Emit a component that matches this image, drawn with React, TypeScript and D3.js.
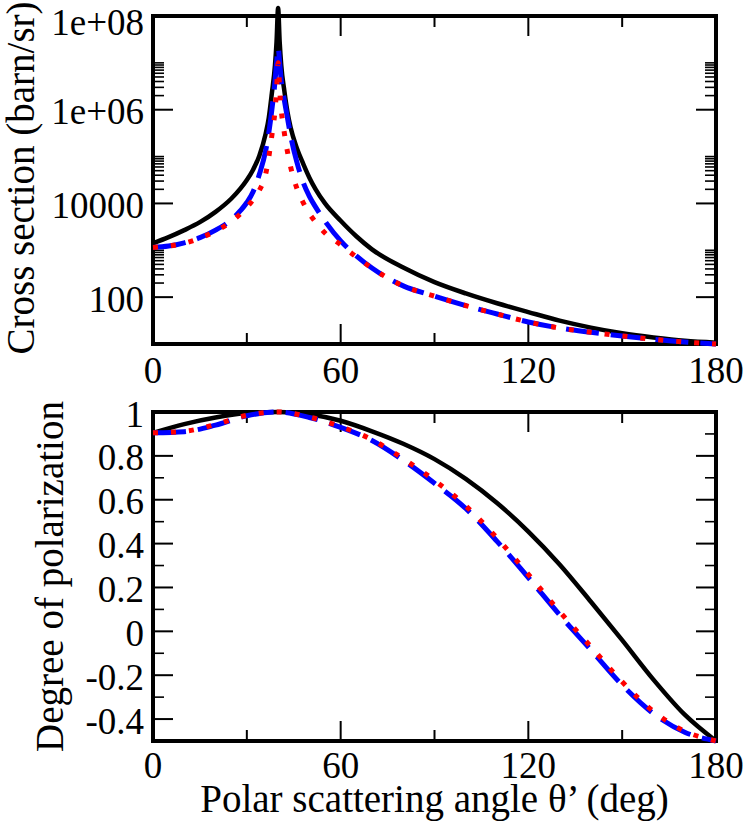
import * as d3 from 'd3';

// Scattering angle θ' (deg) for the cross-section panel (dense around the 40° peak)
const csAngles = [0, 5, 10, 15, 20, 25, 28, 30, 32, 34, 36, 37, 38, 39, 39.5, 40, 40.5, 41, 42, 43, 44, 46, 48, 50, 52, 55, 60, 65, 70, 80, 90, 100, 110, 120, 130, 140, 150, 160, 170, 180];

// Cross section (barn/sr)
const csSolid = [1410, 1905, 2690, 3980, 6610, 12600, 20900, 31600, 52500, 104700, 302000, 660700, 2.24e6, 8.91e6, 2.82e7, 1.48e8, 2.82e7, 8.91e6, 2.51e6, 8.91e5, 4.17e5, 1.51e5, 70800, 35500, 19950, 10000, 4270, 1995, 1047, 427, 209, 120, 74, 48, 31.6, 22.4, 17, 13.8, 11.7, 10.7];
const csDashed = [1150, 1230, 1445, 1860, 2690, 4470, 7080, 10470, 17800, 41700, 131800, 316200, 1e6, 3.98e6, 1e7, 2.09e7, 1e7, 4.17e6, 1.58e6, 6.61e5, 2.82e5, 75900, 28200, 14100, 8320, 4170, 1585, 759, 417, 174, 105, 66, 43.7, 29.5, 21.9, 17.8, 14.8, 12.6, 11, 10];
const csDotted = [1150, 1230, 1413, 1820, 2570, 4070, 6030, 8320, 12000, 19050, 41700, 95500, 281800, 955000, 2.63e6, 1e7, 2.63e6, 1e6, 316200, 125900, 60300, 20900, 10470, 6030, 3980, 2340, 1318, 724, 417, 174, 105, 66, 43.7, 29.5, 21.9, 17.8, 14.8, 12.6, 11, 10];

// Degree of polarization
const polAngles = [0, 10, 20, 30, 40, 50, 60, 70, 80, 90, 100, 110, 120, 130, 140, 150, 160, 170, 180];
const polSolid = [0.905, 0.945, 0.975, 0.995, 1.0, 0.99, 0.96, 0.912, 0.855, 0.785, 0.695, 0.585, 0.455, 0.305, 0.135, -0.04, -0.22, -0.38, -0.5];
const polDashed = [0.905, 0.91, 0.94, 0.983, 1.0, 0.975, 0.93, 0.87, 0.78, 0.675, 0.56, 0.41, 0.245, 0.075, -0.085, -0.245, -0.375, -0.46, -0.5];
const polDotted = [0.905, 0.912, 0.943, 0.985, 1.0, 0.977, 0.933, 0.874, 0.787, 0.688, 0.572, 0.425, 0.26, 0.09, -0.07, -0.23, -0.365, -0.455, -0.5];

// Tick labels
const angleTicks = [0, 60, 120, 180];
const angleMinor = [30, 90, 150];
const csTicks = [100, 1e4, 1e6, 1e8];
const csTickLabels = ['100', '10000', '1e+06', '1e+08'];
const polTicks = [-0.4, -0.2, 0, 0.2, 0.4, 0.6, 0.8, 1];
const polTickLabels = ['-0.4', '-0.2', '0', '0.2', '0.4', '0.6', '0.8', '1'];
const polMinor = [-0.3, -0.1, 0.1, 0.3, 0.5, 0.7, 0.9];

const FONT = "'Liberation Serif', 'Times New Roman', Times, serif";
const TICK_FS = 37;
const TITLE_FS = 39;
const MAJOR = 20;
const MINOR = 11;

const series = [
  { color: '#000000', width: 4.5, dash: undefined as string | undefined },
  { color: '#0000ff', width: 5, dash: '33 12' },
  { color: '#ff0000', width: 5, dash: '5 13' },
];

interface Box { left: number; right: number; top: number; bottom: number }

function Frame({ box, xMajor, xMinor, yMajor, yMinor }: {
  box: Box; xMajor: number[]; xMinor: number[]; yMajor: number[]; yMinor: number[];
}) {
  const { left, right, top, bottom } = box;
  return (
    <g stroke="#000" fill="none">
      {xMajor.map((x, i) => (
        <g key={'xM' + i} strokeWidth={2}>
          <line x1={x} x2={x} y1={bottom} y2={bottom - MAJOR} />
          <line x1={x} x2={x} y1={top} y2={top + MAJOR} />
        </g>
      ))}
      {xMinor.map((x, i) => (
        <g key={'xm' + i} strokeWidth={2}>
          <line x1={x} x2={x} y1={bottom} y2={bottom - MINOR} />
          <line x1={x} x2={x} y1={top} y2={top + MINOR} />
        </g>
      ))}
      {yMajor.map((y, i) => (
        <g key={'yM' + i} strokeWidth={2}>
          <line x1={left} x2={left + MAJOR} y1={y} y2={y} />
          <line x1={right} x2={right - MAJOR} y1={y} y2={y} />
        </g>
      ))}
      {yMinor.map((y, i) => (
        <g key={'ym' + i} strokeWidth={1.6}>
          <line x1={left} x2={left + MINOR} y1={y} y2={y} />
          <line x1={right} x2={right - MINOR} y1={y} y2={y} />
        </g>
      ))}
      <rect x={left} y={top} width={right - left} height={bottom - top} strokeWidth={4} />
    </g>
  );
}

export default function App() {
  const topBox: Box = { left: 153, right: 716, top: 16, bottom: 344 };
  const botBox: Box = { left: 153, right: 716, top: 412, bottom: 741 };

  const x = d3.scaleLinear().domain([0, 180]).range([topBox.left, topBox.right]);
  const yCs = d3.scaleLog().domain([10, 1e8]).range([topBox.bottom, topBox.top]);
  const yPol = d3.scaleLinear().domain([-0.5, 1]).range([botBox.bottom, botBox.top]);

  const csLine = d3.line<number>()
    .x((_, i) => x(csAngles[i]))
    .y((d) => yCs(d))
    .curve(d3.curveMonotoneX);
  const polLine = d3.line<number>()
    .x((_, i) => x(polAngles[i]))
    .y((d) => yPol(d))
    .curve(d3.curveMonotoneX);

  // minor log ticks: 2..10 x each labelled decade below the top
  const csMinor: number[] = [];
  [100, 1e4, 1e6].forEach((base) => {
    for (let k = 2; k <= 10; k++) csMinor.push(k * base);
  });

  const csData = [csSolid, csDashed, csDotted];
  const polData = [polSolid, polDashed, polDotted];
  const txt = { fontFamily: FONT };

  return (
    <svg width={747} height={827} style={{ position: 'absolute', left: 0, top: 0, background: '#fff' }}>
      {/* top panel */}
      <Frame
        box={topBox}
        xMajor={angleTicks.slice(1, -1).map(x)}
        xMinor={angleMinor.map(x)}
        yMajor={csTicks.slice(0, -1).map(yCs)}
        yMinor={csMinor.map(yCs)}
      />
      {csData.map((d, i) => (
        <path key={'cs' + i} d={csLine(d) || ''} fill="none" stroke={series[i].color}
          strokeWidth={series[i].width} strokeDasharray={series[i].dash} strokeLinejoin="round" />
      ))}
      {csTicks.map((t, i) => (
        <text key={'cst' + i} x={topBox.left - 9} y={yCs(t) + (t === 1e8 ? 6 : 2)} dy="0.34em"
          textAnchor="end" fontSize={TICK_FS} style={txt}>
          {csTickLabels[i]}
        </text>
      ))}
      {angleTicks.map((t) => (
        <text key={'tx' + t} x={x(t)} y={383} textAnchor="middle" fontSize={TICK_FS} style={txt}>{t}</text>
      ))}
      <text transform={`translate(34,${(topBox.top + topBox.bottom) / 2 - 2}) rotate(-90)`} textAnchor="middle"
        fontSize={TITLE_FS} style={txt}>Cross section (barn/sr)</text>

      {/* bottom panel */}
      <Frame
        box={botBox}
        xMajor={angleTicks.slice(1, -1).map(x)}
        xMinor={angleMinor.map(x)}
        yMajor={polTicks.slice(0, -1).map(yPol)}
        yMinor={polMinor.map(yPol)}
      />
      {polData.map((d, i) => (
        <path key={'pol' + i} d={polLine(d) || ''} fill="none" stroke={series[i].color}
          strokeWidth={series[i].width} strokeDasharray={series[i].dash} strokeLinejoin="round" />
      ))}
      {polTicks.map((t, i) => (
        <text key={'pt' + i} x={botBox.left - 9} y={yPol(t) + 2} dy="0.34em" textAnchor="end"
          fontSize={TICK_FS} style={txt}>
          {polTickLabels[i]}
        </text>
      ))}
      {angleTicks.map((t) => (
        <text key={'bx' + t} x={x(t)} y={778} textAnchor="middle" fontSize={TICK_FS} style={txt}>{t}</text>
      ))}
      <text transform={`translate(63,${(botBox.top + botBox.bottom) / 2}) rotate(-90)`} textAnchor="middle"
        fontSize={TITLE_FS} style={txt}>Degree of polarization</text>
      <text x={(botBox.left + botBox.right) / 2} y={812} textAnchor="middle" fontSize={TITLE_FS} style={txt}>
        Polar scattering angle θ’ (deg)
      </text>
    </svg>
  );
}
